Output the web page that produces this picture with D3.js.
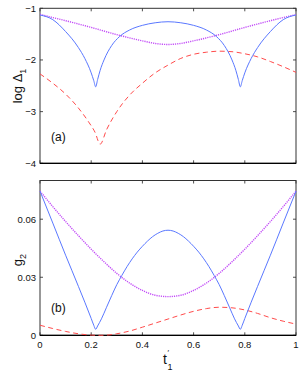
<!DOCTYPE html>
<html><head><meta charset="utf-8">
<script src="https://cdn.jsdelivr.net/npm/d3@7"></script>
<style>body{margin:0;background:#fff;}svg{display:block;font-family:"Liberation Sans",Arial,sans-serif;}</style>
</head><body>
<script>
// ---- data ----
const xTicks = [0, 0.2, 0.4, 0.6, 0.8, 1];
const xTickLabels = ["0", "0.2", "0.4", "0.6", "0.8", "1"];
const topYTicks = [-1, -2, -3, -4];
const topYTickLabels = ["\u22121", "\u22122", "\u22123", "\u22124"];
const botYTicks = [0, 0.03, 0.06];
const botYTickLabels = ["0", "0.03", "0.06"];

// panel (a): log Delta_1
const aBlueT = [0,0.05,0.1,0.15,0.175,0.2,0.21,0.2175,0.225,0.235,0.25,0.28,0.31,0.35,0.4,0.45,0.5,0.55,0.6,0.65,0.69,0.72,0.75,0.765,0.775,0.7825,0.79,0.8,0.825,0.85,0.9,0.95,1];
const aBlueV = [-1.13,-1.22,-1.45,-1.76,-1.97,-2.25,-2.4,-2.52,-2.38,-2.2,-2.0,-1.72,-1.55,-1.42,-1.33,-1.28,-1.26,-1.28,-1.33,-1.42,-1.55,-1.72,-2.0,-2.2,-2.38,-2.52,-2.4,-2.25,-1.97,-1.76,-1.45,-1.22,-1.13];
const aPurpleT = [0,0.1,0.2,0.3,0.4,0.45,0.5,0.55,0.6,0.7,0.8,0.9,1];
const aPurpleV = [-1.12,-1.24,-1.37,-1.51,-1.63,-1.68,-1.70,-1.68,-1.63,-1.51,-1.37,-1.24,-1.12];
const aRedT = [0,0.05,0.1,0.15,0.19,0.215,0.235,0.26,0.3,0.35,0.4,0.45,0.5,0.55,0.6,0.65,0.7,0.75,0.8,0.85,0.9,0.95,1];
const aRedV = [-2.27,-2.45,-2.66,-2.93,-3.2,-3.4,-3.63,-3.35,-3.0,-2.68,-2.45,-2.25,-2.1,-1.97,-1.89,-1.85,-1.83,-1.84,-1.88,-1.94,-2.03,-2.13,-2.24];

// panel (b): g_2
const bBlueT = [0,0.05,0.1,0.15,0.2,0.21,0.2175,0.225,0.24,0.26,0.28,0.3,0.32,0.34,0.36,0.38,0.4,0.42,0.44,0.46,0.48,0.5,0.52,0.54,0.56,0.58,0.6,0.62,0.64,0.66,0.68,0.7,0.72,0.74,0.76,0.775,0.7825,0.79,0.8,0.85,0.9,0.95,1];
const bBlueV = [0.0745,0.058,0.0414,0.0253,0.0087,0.0052,0.0031,0.0048,0.0085,0.0145,0.0205,0.0262,0.031,0.0355,0.0395,0.043,0.046,0.0487,0.051,0.0527,0.0539,0.0543,0.0539,0.0527,0.051,0.0487,0.046,0.043,0.0395,0.0355,0.031,0.0262,0.0205,0.0145,0.0085,0.0048,0.0031,0.0052,0.0087,0.0253,0.0414,0.058,0.0745];
const bPurpleT = [0,0.05,0.1,0.15,0.2,0.25,0.3,0.35,0.4,0.45,0.5,0.55,0.6,0.65,0.7,0.75,0.8,0.85,0.9,0.95,1];
const bPurpleV = [0.0745,0.0665,0.0588,0.0515,0.0445,0.038,0.032,0.027,0.0232,0.0207,0.020,0.0207,0.0232,0.027,0.032,0.038,0.0445,0.0515,0.0588,0.0665,0.0745];
const bRedT = [0,0.05,0.1,0.15,0.2,0.235,0.27,0.3,0.35,0.4,0.45,0.5,0.55,0.6,0.65,0.7,0.75,0.8,0.85,0.9,0.95,1];
const bRedV = [0.0052,0.0035,0.002,0.0008,0.0001,0.0,0.0002,0.0008,0.0022,0.0042,0.0063,0.0084,0.0105,0.0124,0.0138,0.0145,0.0142,0.0131,0.0113,0.0091,0.0073,0.0058];

// ---- drawing ----
const W = 303, H = 376;
const svg = d3.select("body").append("svg").attr("width", W).attr("height", H);
const x = d3.scaleLinear().domain([0, 1]).range([40, 296]);
const yA = d3.scaleLinear().domain([-4, -1]).range([163.3, 8.3]);
const yB = d3.scaleLinear().domain([0, 0.08]).range([335.3, 180.5]);

const BLUE = "#5a78ff", PURPLE = "#c24cf7", RED = "#ff4b4b";

function panel(y, yTicks, yLabels, showX) {
  const g = svg.append("g");
  const [y0, y1] = y.range();
  const tl = 3;
  xTicks.forEach(t => {
    g.append("line").attr("x1", x(t)).attr("x2", x(t)).attr("y1", y0).attr("y2", y0 - tl).attr("stroke", "#222").attr("stroke-width", 0.8);
    g.append("line").attr("x1", x(t)).attr("x2", x(t)).attr("y1", y1).attr("y2", y1 + tl).attr("stroke", "#222").attr("stroke-width", 0.8);
  });
  yTicks.forEach(t => {
    g.append("line").attr("x1", x(0)).attr("x2", x(0) + tl).attr("y1", y(t)).attr("y2", y(t)).attr("stroke", "#222").attr("stroke-width", 0.8);
    g.append("line").attr("x1", x(1)).attr("x2", x(1) - tl).attr("y1", y(t)).attr("y2", y(t)).attr("stroke", "#222").attr("stroke-width", 0.8);
  });
  yTicks.forEach((t, i) => {
    g.append("text").attr("x", x(0) - 4).attr("y", y(t)).attr("dy", "0.35em").attr("text-anchor", "end")
      .attr("font-size", 9.5).attr("fill", "#111").text(yLabels[i]);
  });
  if (showX) {
    xTicks.forEach((t, i) => {
      g.append("text").attr("x", x(t)).attr("y", y0 + 13).attr("text-anchor", "middle")
        .attr("font-size", 9.5).attr("fill", "#111").text(xTickLabels[i]);
    });
  }
  g.append("rect").attr("x", x(0)).attr("y", y1).attr("width", x(1) - x(0)).attr("height", y0 - y1)
    .attr("fill", "none").attr("stroke", "#333").attr("stroke-width", 1);
  g.append("line").attr("x1", x(0)).attr("x2", x(1)).attr("y1", y0).attr("y2", y0).attr("stroke", "#000").attr("stroke-width", 1.2);
  return g;
}

function curve(y, T, V, color, dash, width) {
  const line = d3.line().x(d => x(d[0])).y(d => y(d[1])).curve(d3.curveMonotoneX);
  const p = svg.append("path").datum(T.map((t, i) => [t, V[i]])).attr("d", line)
    .attr("fill", "none").attr("stroke", color).attr("stroke-width", width || 1);
  if (dash) p.attr("stroke-dasharray", dash);
  return p;
}

panel(yA, topYTicks, topYTickLabels, false);
panel(yB, botYTicks, botYTickLabels, true);

curve(yA, aRedT, aRedV, RED, "5,3.5", 1);
curve(yA, aPurpleT, aPurpleV, PURPLE, "1.2,1", 1.4);
curve(yA, aBlueT, aBlueV, BLUE, null, 1);

curve(yB, bRedT, bRedV, RED, "5,3.5", 1);
curve(yB, bPurpleT, bPurpleV, PURPLE, "1.2,1", 1.4);
curve(yB, bBlueT, bBlueV, BLUE, null, 1);

svg.append("text").attr("x", 51).attr("y", 141).attr("font-size", 12).attr("fill", "#111").text("(a)");
svg.append("text").attr("x", 51).attr("y", 312).attr("font-size", 12).attr("fill", "#111").text("(b)");

const ya = svg.append("text").attr("transform", "translate(22,86) rotate(-90)").attr("text-anchor", "middle")
  .attr("font-size", 13).attr("fill", "#111");
ya.append("tspan").text("log \u0394");
ya.append("tspan").attr("font-size", 9).attr("dy", 4).text("1");

const yb = svg.append("text").attr("transform", "translate(22,260) rotate(-90)").attr("text-anchor", "middle")
  .attr("font-size", 13).attr("fill", "#111");
yb.append("tspan").text("g");
yb.append("tspan").attr("font-size", 9).attr("dy", 4).text("2");

svg.append("text").attr("x", 163).attr("y", 364).attr("font-size", 14).attr("fill", "#111").text("t");
svg.append("text").attr("x", 167.5).attr("y", 355).attr("font-size", 8).attr("fill", "#111").text("\u2032");
svg.append("text").attr("x", 167.5).attr("y", 370).attr("font-size", 9).attr("fill", "#111").text("1");
</script>
</body></html>
